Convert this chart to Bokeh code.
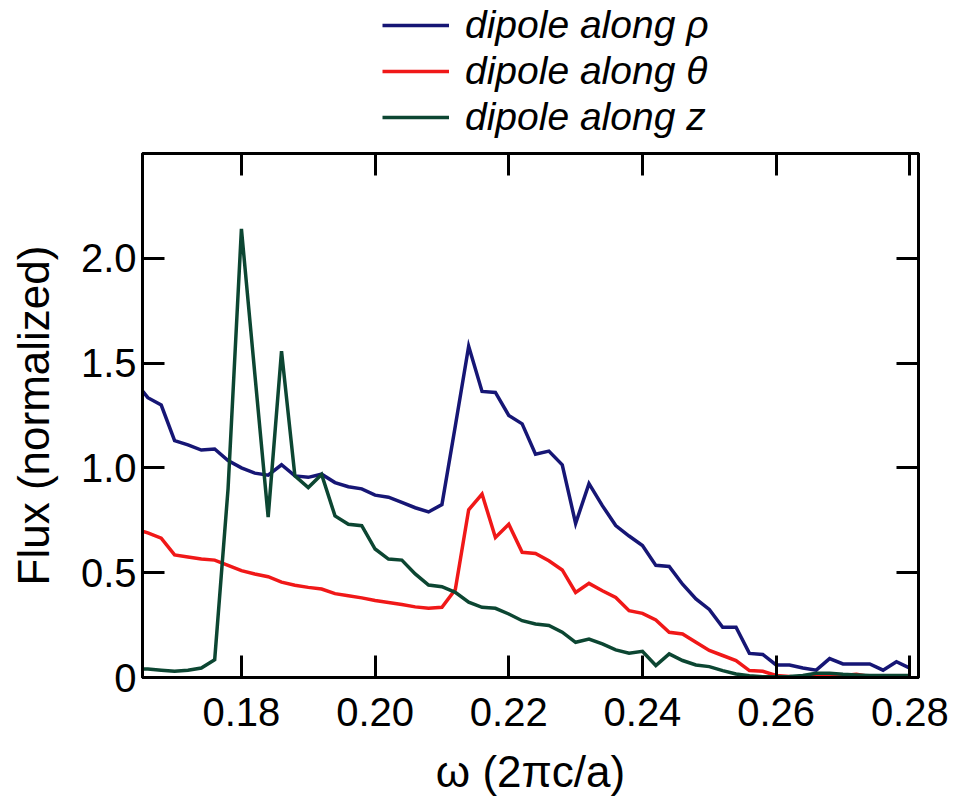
from bokeh.plotting import figure
from bokeh.layouts import column
from bokeh.models import (Range1d, LinearAxis, FixedTicker, NumeralTickFormatter,
                          Legend, LegendItem)
from bokeh.embed import file_html
from bokeh.resources import INLINE

# frequency omega (2*pi*c/a)
omega = [0.165, 0.166, 0.168, 0.170, 0.172, 0.174, 0.176, 0.178, 0.180, 0.182,
         0.184, 0.186, 0.188, 0.190, 0.192, 0.194, 0.196, 0.198, 0.200, 0.202,
         0.204, 0.206, 0.208, 0.210, 0.212, 0.214, 0.216, 0.218, 0.220, 0.222,
         0.224, 0.226, 0.228, 0.230, 0.232, 0.234, 0.236, 0.238, 0.240, 0.242,
         0.244, 0.246, 0.248, 0.250, 0.252, 0.254, 0.256, 0.258, 0.260, 0.262,
         0.264, 0.266, 0.268, 0.270, 0.272, 0.274, 0.276, 0.278, 0.280]

flux_rho = [1.375, 1.335, 1.30, 1.13, 1.11, 1.085, 1.09, 1.035, 1.00, 0.975,
            0.965, 1.015, 0.962, 0.955, 0.97, 0.93, 0.91, 0.90, 0.87, 0.86,
            0.835, 0.81, 0.79, 0.825, 1.20, 1.58, 1.365, 1.36, 1.25, 1.21,
            1.065, 1.08, 1.015, 0.735, 0.925, 0.82, 0.725, 0.675, 0.63, 0.535,
            0.53, 0.445, 0.375, 0.325, 0.24, 0.24, 0.115, 0.11, 0.06, 0.06,
            0.045, 0.035, 0.09, 0.065, 0.065, 0.065, 0.035, 0.075, 0.045]

flux_theta = [0.70, 0.69, 0.665, 0.585, 0.575, 0.565, 0.56, 0.535, 0.51, 0.494,
              0.481, 0.455, 0.44, 0.43, 0.422, 0.40, 0.39, 0.38, 0.367, 0.358,
              0.348, 0.337, 0.33, 0.335, 0.42, 0.80, 0.875, 0.668, 0.731, 0.597,
              0.592, 0.557, 0.513, 0.406, 0.449, 0.414, 0.382, 0.319, 0.306, 0.275,
              0.216, 0.208, 0.168, 0.129, 0.105, 0.081, 0.033, 0.03, 0.01, 0.005,
              0.0, 0.01, 0.015, 0.01, 0.015, 0.005, 0.0, 0.0, 0.0]

flux_z = [0.04, 0.04, 0.035, 0.03, 0.035, 0.045, 0.085, 0.90, 2.14, 1.45,
          0.765, 1.557, 0.962, 0.906, 0.969, 0.771, 0.731, 0.724, 0.613, 0.565,
          0.56, 0.494, 0.441, 0.433, 0.406, 0.359, 0.335, 0.33, 0.303, 0.271,
          0.255, 0.248, 0.216, 0.168, 0.183, 0.16, 0.132, 0.116, 0.125, 0.057,
          0.113, 0.081, 0.06, 0.052, 0.033, 0.017, 0.008, 0.004, 0.003, 0.005,
          0.01, 0.02, 0.02, 0.015, 0.012, 0.01, 0.01, 0.01, 0.01]

series_labels = ["dipole along ρ", "dipole along θ", "dipole along z"]
series_colors = ["#161675", "#f01818", "#0c4632"]
all_series = [flux_rho, flux_theta, flux_z]

x_ticks = [0.18, 0.20, 0.22, 0.24, 0.26, 0.28]
y_ticks = [0, 0.5, 1.0, 1.5, 2.0]

FONT = "Liberation Sans"
LINE_W = 3.5

# ---------------- main plot ----------------
p = figure(width=958, height=663, output_backend="svg", toolbar_location=None,
           x_range=Range1d(0.1652, 0.2813), y_range=Range1d(0, 2.5),
           min_border_left=142, min_border_right=40, min_border_top=13,
           min_border_bottom=126, x_axis_label="ω (2πc/a)",
           y_axis_label="Flux (normalized)")
p.background_fill_color = "white"
p.border_fill_color = "white"
p.grid.visible = False
p.outline_line_color = "black"
p.outline_line_width = 3

for ys, col in zip(all_series, series_colors):
    p.line(omega, ys, line_color=col, line_width=LINE_W, line_join="miter")

def style_axis(ax, ticks, show_labels):
    ax.ticker = FixedTicker(ticks=ticks)
    ax.axis_line_width = 3
    ax.axis_line_color = "black"
    ax.major_tick_in = 22
    ax.major_tick_out = 0
    ax.major_tick_line_width = 3
    ax.minor_tick_in = 0
    ax.minor_tick_out = 0
    if show_labels:
        ax.major_label_text_font = FONT
        ax.major_label_text_font_size = "40px"
        ax.major_label_text_color = "black"
        ax.axis_label_text_font = FONT
        ax.axis_label_text_font_size = "44px"
        ax.axis_label_text_font_style = "normal"
        ax.axis_label_text_color = "black"
    else:
        ax.major_label_text_font_size = "0px"
        ax.major_label_text_alpha = 0
        ax.major_label_standoff = 0

xax = p.xaxis[0]
yax = p.yaxis[0]
style_axis(xax, x_ticks, True)
style_axis(yax, y_ticks, True)
xax.formatter = NumeralTickFormatter(format="0.00")
yax.formatter = NumeralTickFormatter(format="0.0")
yax.major_label_overrides = {0: "0"}
xax.major_label_standoff = 20
xax.axis_label_standoff = 18
yax.major_label_standoff = 6
yax.axis_label_standoff = 20

top_ax = LinearAxis()
right_ax = LinearAxis()
style_axis(top_ax, x_ticks, False)
style_axis(right_ax, y_ticks, False)
p.add_layout(top_ax, "above")
p.add_layout(right_ax, "right")

# ---------------- legend strip above the plot ----------------
lg = figure(width=958, height=140, output_backend="svg", toolbar_location=None,
            x_range=Range1d(0.1652, 0.2813), y_range=Range1d(10, 11),
            x_axis_type=None, y_axis_type=None,
            min_border_left=0, min_border_right=0, min_border_top=0,
            min_border_bottom=0)
lg.grid.visible = False
lg.outline_line_color = None
lg.background_fill_color = "white"
lg.border_fill_color = "white"

leg_renderers = []
for ys, col in zip(all_series, series_colors):
    leg_renderers.append(lg.line(omega, ys, line_color=col, line_width=LINE_W))

items = [LegendItem(label=lab, renderers=[r]) for lab, r in zip(series_labels, leg_renderers)]
legend = Legend(items=items, location=(240, 0))
legend.label_text_font = FONT
legend.label_text_font_size = "39px"
legend.label_text_font_style = "italic"
legend.label_text_color = "black"
legend.glyph_width = 67
legend.glyph_height = 46
legend.label_height = 46
legend.label_standoff = 16
legend.spacing = 0
legend.padding = 0
legend.margin = 0
legend.border_line_alpha = 0
legend.background_fill_alpha = 0
lg.add_layout(legend, "center")

layout = column(lg, p, spacing=0)
open("out.html", "w").write(file_html(layout, INLINE))
